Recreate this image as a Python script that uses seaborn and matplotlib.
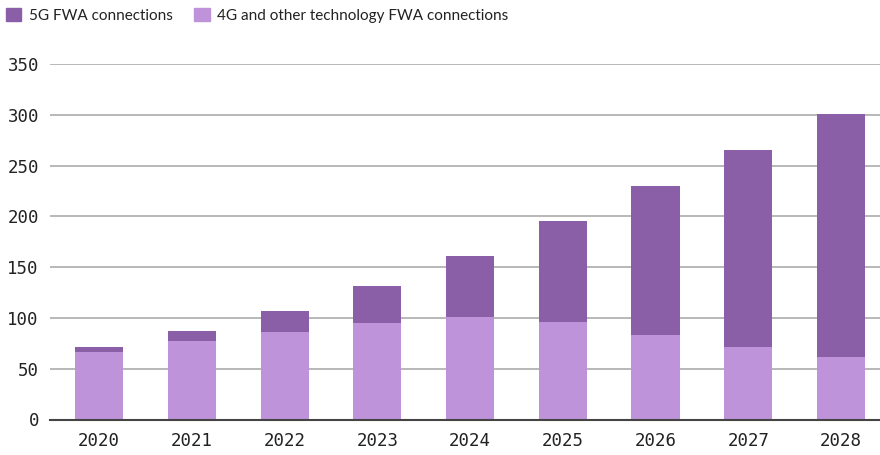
import numpy as np
import pandas as pd
import matplotlib
matplotlib.use("Agg")
import matplotlib.pyplot as plt
import matplotlib.patches as mpatches
import seaborn as sns

# FWA connections (millions)
years = ['2020', '2021', '2022', '2023', '2024', '2025', '2026', '2027', '2028']
fwa_4g = [66, 77, 86, 95, 101, 96, 83, 71, 62]
fwa_5g = [5, 10, 21, 36, 60, 99, 147, 194, 239]
y_ticks = [0, 50, 100, 150, 200, 250, 300, 350]

c5g = '#8b5fa7'
c4g = '#be93d9'

df = pd.DataFrame({'Year': years, '4G': fwa_4g, '5G': fwa_5g})
df['Total'] = df['4G'] + df['5G']

sns.set_style('white')
plt.rcParams['font.family'] = ['Lato', 'DejaVu Sans']

fig = plt.figure(figsize=(8.8, 4.55), dpi=100)
ax = fig.add_axes([50 / 880, 1 - 419.5 / 455, 830 / 880, 355.5 / 455])

sns.barplot(data=df, x='Year', y='Total', color=c5g, width=0.52,
            saturation=1, linewidth=0, ax=ax, zorder=3)
sns.barplot(data=df, x='Year', y='4G', color=c4g, width=0.52,
            saturation=1, linewidth=0, ax=ax, zorder=3)

ax.set_ylim(0, 350)
ax.set_xlim(-0.53, 8.42)
ax.set_yticks(y_ticks)
ax.set_xlabel('')
ax.set_ylabel('')
ax.yaxis.grid(True, color='#b8b8b8', linewidth=1.4, zorder=0)
ax.set_axisbelow(True)
for s in ['top', 'right', 'left']:
    ax.spines[s].set_visible(False)
ax.spines['bottom'].set_color('#444444')
ax.spines['bottom'].set_linewidth(1.5)
ax.spines['bottom'].set_zorder(4)
ax.tick_params(axis='both', length=0, labelsize=12.5, colors='#222222')
ax.tick_params(axis='y', pad=8)
ax.tick_params(axis='x', pad=9)
for lab in ax.get_xticklabels() + ax.get_yticklabels():
    lab.set_family('DejaVu Sans Mono')

handles = [mpatches.Patch(color=c5g), mpatches.Patch(color=c4g)]
labels = ['5G FWA connections', '4G and other technology FWA connections']
fig.legend(handles, labels, loc='upper left', bbox_to_anchor=(-0.007, 1.01),
           ncol=2, frameon=False, fontsize=11, handlelength=1.0,
           handleheight=1.0, handletextpad=0.5, columnspacing=1.4,
           borderaxespad=0.4, labelcolor='#222222')

fig.savefig('out.png', dpi=100)
